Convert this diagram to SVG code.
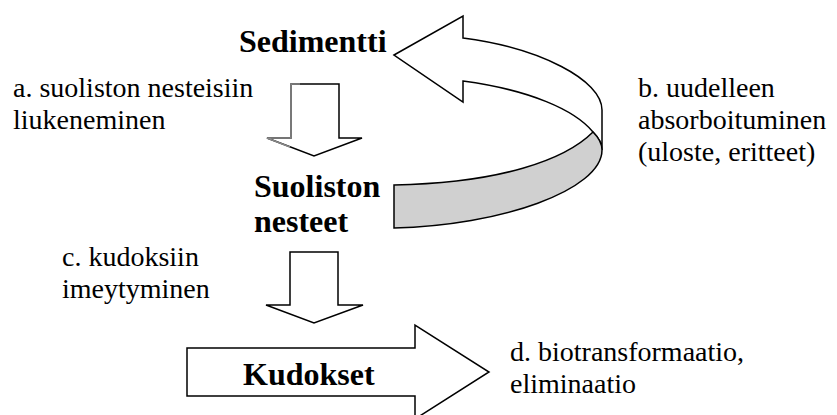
<svg xmlns="http://www.w3.org/2000/svg" width="837" height="415" viewBox="0 0 837 415">
<rect width="837" height="415" fill="#fff"/>
<g id="connectors" stroke="#000" stroke-width="1.5" fill="#fff">
<g id="curved-arrow">
<path d="M394,55 L463,16 L463,38 C540,48 602,80 602,110 L602,150 C602,142 598,137 593,132 C575,110 530,90 463,81 L463,102 Z"/>
<path fill="#d0d0d0" d="M593,132 C565,160 500,183 394,185 L394,228 C500,226 602,190 602,150 C602,142 598,137 593,132 Z"/>
</g>
<g id="arrow-a">
<path d="M291,84 L339,84 L339,138 L362,138 L314,156 L267,138 L291,138 Z"/>
<path d="M300,84 L291,84 L291,138 L267,138 L290,147" fill="none" stroke="#888" stroke-width="1.6"/>
</g>
<g id="arrow-c">
<path d="M290,252 L338,252 L338,305 L363,305 L314,323 L266,305 L290,305 Z"/>
</g>
</g>
<g id="node-sedimentti">
<text x="239" y="52" font-family="Liberation Serif" font-size="32" font-weight="bold">Sedimentti</text>
</g>
<g id="node-suoliston">
<text x="254" y="197" font-family="Liberation Serif" font-size="32" font-weight="bold">Suoliston</text>
<text x="254" y="232" font-family="Liberation Serif" font-size="32" font-weight="bold">nesteet</text>
</g>
<g id="node-kudokset">
<path d="M187,348 L415,348 L415,325 L489,372 L415,419 L415,396 L187,396 Z" fill="#fff" stroke="#000" stroke-width="1.5"/>
<text x="243" y="385" font-family="Liberation Serif" font-size="32" font-weight="bold">Kudokset</text>
</g>
<g id="labels">
<text x="13" y="97" font-family="Liberation Serif" font-size="28">a. suoliston nesteisiin</text>
<text x="13" y="129" font-family="Liberation Serif" font-size="28">liukeneminen</text>
<text x="638" y="97" font-family="Liberation Serif" font-size="28">b. uudelleen</text>
<text x="638" y="129" font-family="Liberation Serif" font-size="28">absorboituminen</text>
<text x="638" y="161" font-family="Liberation Serif" font-size="28">(uloste, eritteet)</text>
<text x="62" y="266" font-family="Liberation Serif" font-size="28">c. kudoksiin</text>
<text x="62" y="298" font-family="Liberation Serif" font-size="28">imeytyminen</text>
<text x="510" y="361" font-family="Liberation Serif" font-size="28">d. biotransformaatio,</text>
<text x="510" y="393" font-family="Liberation Serif" font-size="28">eliminaatio</text>
</g>
</svg>
